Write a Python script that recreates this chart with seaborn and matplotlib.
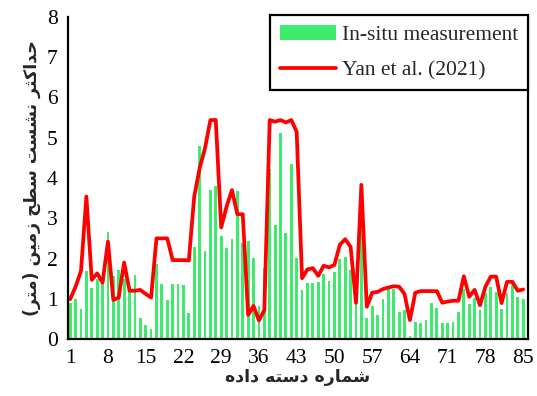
import numpy as np
import pandas as pd
import matplotlib
matplotlib.use("Agg")
import matplotlib.pyplot as plt
import seaborn as sns

# ===================== DATA =====================
dataset_no = list(range(1, 86))

measured = [0.90, 0.99, 0.75, 1.70, 1.26, 1.50, 1.39, 2.65, 1.57, 1.72,
            1.50, 1.30, 1.60, 0.52, 0.35, 0.26, 1.86, 1.37, 0.97, 1.37,
            1.37, 1.34, 0.64, 2.29, 4.80, 2.19, 3.70, 3.80, 2.55, 2.26,
            2.49, 3.68, 2.39, 2.43, 2.01, 0.82, 1.76, 4.22, 2.82, 5.13,
            2.63, 4.34, 2.02, 1.21, 1.40, 1.38, 1.42, 1.62, 1.43, 1.66,
            1.98, 2.03, 1.72, 0.88, 2.70, 0.53, 0.82, 0.60, 1.00, 1.23,
            1.23, 0.66, 0.72, 0.07, 0.42, 0.39, 0.46, 0.90, 0.78, 0.39,
            0.39, 0.41, 0.67, 1.23, 0.87, 1.03, 0.72, 1.15, 1.28, 1.18,
            0.75, 1.15, 1.38, 1.04, 0.99]

yan2021 = [0.99, 1.30, 1.69, 3.54, 1.47, 1.63, 1.40, 2.42, 0.97, 1.03,
           1.90, 1.20, 1.20, 1.22, 1.12, 1.03, 2.50, 2.50, 2.50, 1.96,
           1.96, 1.96, 1.95, 3.54, 4.24, 4.74, 5.44, 5.44, 2.77, 3.29,
           3.70, 3.10, 3.10, 0.60, 0.82, 0.46, 0.72, 5.44, 5.40, 5.44,
           5.38, 5.44, 5.15, 1.51, 1.73, 1.76, 1.57, 1.82, 1.78, 1.84,
           2.34, 2.48, 2.29, 0.90, 3.83, 0.80, 1.15, 1.17, 1.24, 1.28,
           1.31, 1.30, 1.12, 0.47, 1.15, 1.19, 1.19, 1.19, 1.19, 0.90,
           0.93, 0.95, 0.95, 1.56, 1.05, 1.22, 0.84, 1.30, 1.55, 1.55,
           0.89, 1.42, 1.42, 1.20, 1.23]

x_ticks = [1, 8, 15, 22, 29, 36, 43, 50, 57, 64, 71, 78, 85]
y_ticks = [0, 1, 2, 3, 4, 5, 6, 7, 8]

legend_labels = ["In-situ measurement", "Yan et al. (2021)"]
x_title = "شماره دسته داده"
y_title = "حداکثر نشست سطح زمین (متر)"

# ===================== ARABIC SHAPING =====================
# matplotlib has no bidi / joining, so build the visual form by hand
FORMS = {
    "ا": ("\uFE8D", "\uFE8E", None, None),
    "د": ("\uFEA9", "\uFEAA", None, None),
    "ر": ("\uFEAD", "\uFEAE", None, None),
    "ز": ("\uFEAF", "\uFEB0", None, None),
    "ه": ("\uFEE9", "\uFEEA", "\uFEEB", "\uFEEC"),
    "ش": ("\uFEB5", "\uFEB6", "\uFEB7", "\uFEB8"),
    "س": ("\uFEB1", "\uFEB2", "\uFEB3", "\uFEB4"),
    "م": ("\uFEE1", "\uFEE2", "\uFEE3", "\uFEE4"),
    "ت": ("\uFE95", "\uFE96", "\uFE97", "\uFE98"),
    "ث": ("\uFE99", "\uFE9A", "\uFE9B", "\uFE9C"),
    "ح": ("\uFEA1", "\uFEA2", "\uFEA3", "\uFEA4"),
    "ط": ("\uFEC1", "\uFEC2", "\uFEC3", "\uFEC4"),
    "ن": ("\uFEE5", "\uFEE6", "\uFEE7", "\uFEE8"),
    "ک": ("\uFB8E", "\uFB8F", "\uFB90", "\uFB91"),
    "ی": ("\uFBFC", "\uFBFD", "\uFBFE", "\uFBFF"),
}


def shape_rtl(text):
    out = []
    for i, c in enumerate(text):
        if c not in FORMS:
            out.append(c)
            continue
        prev_j = i > 0 and text[i - 1] in FORMS and FORMS[text[i - 1]][2] is not None
        next_j = (i + 1 < len(text) and text[i + 1] in FORMS
                  and FORMS[c][2] is not None)
        iso, fin, ini, med = FORMS[c]
        if prev_j and next_j:
            out.append(med)
        elif prev_j:
            out.append(fin)
        elif next_j:
            out.append(ini)
        else:
            out.append(iso)
    vis = "".join(out)[::-1]
    return vis.translate(str.maketrans("()", ")("))


# ===================== PLOT =====================
df = pd.DataFrame({"no": dataset_no, "measured": measured, "yan": yan2021})

sns.set_style("white")
plt.rcParams["font.family"] = ["Liberation Serif", "DejaVu Serif"]

fig = plt.figure(figsize=(5.37, 3.96), dpi=100)
ax = fig.add_axes([67.5 / 537, 57 / 396, (528 - 67.5) / 537, 322 / 396])

sns.barplot(data=df, x="no", y="measured", native_scale=True, width=0.52,
            color="#3FEB6C", saturation=1, edgecolor="none",
            label=legend_labels[0], ax=ax)
sns.lineplot(data=df, x="no", y="yan", color="#FF0000", linewidth=2.7,
             label=legend_labels[1], ax=ax)

ax.set_xlim(0.5, 85.9)
ax.set_ylim(0, 8)
ax.set_xticks(x_ticks)
ax.set_xticks(dataset_no, minor=True)
ax.set_yticks(y_ticks)
ax.tick_params(axis="both", labelsize=15.5, colors="black")
ax.tick_params(axis="y", direction="out", length=4, width=1.5, pad=3)
ax.tick_params(axis="x", which="both", direction="out", length=2.5, width=1, pad=5)

for side in ["left", "bottom", "right"]:
    ax.spines[side].set_linewidth(1.6)
    ax.spines[side].set_color("black")
ax.spines["top"].set_visible(False)

ax.set_xlabel(shape_rtl(x_title), family=["DejaVu Sans"], fontweight="bold",
              fontsize=12.5, labelpad=0)
ax.set_ylabel(shape_rtl(y_title), family=["DejaVu Sans"], fontweight="bold",
              fontsize=12.5, labelpad=4)

handles, labels = ax.get_legend_handles_labels()
order = [labels.index(l) for l in legend_labels]
leg = ax.legend([handles[i] for i in order], [labels[i] for i in order],
                loc="upper right", bbox_to_anchor=(1.0, 1.005), borderaxespad=0,
                frameon=True, fancybox=False, edgecolor="black", fontsize=15.5,
                handlelength=2.6, handletextpad=0.3, labelspacing=0.7,
                borderpad=0.45)
leg.get_frame().set_linewidth(1.6)
leg.get_frame().set_alpha(1)

fig.savefig("out.png", dpi=100)
